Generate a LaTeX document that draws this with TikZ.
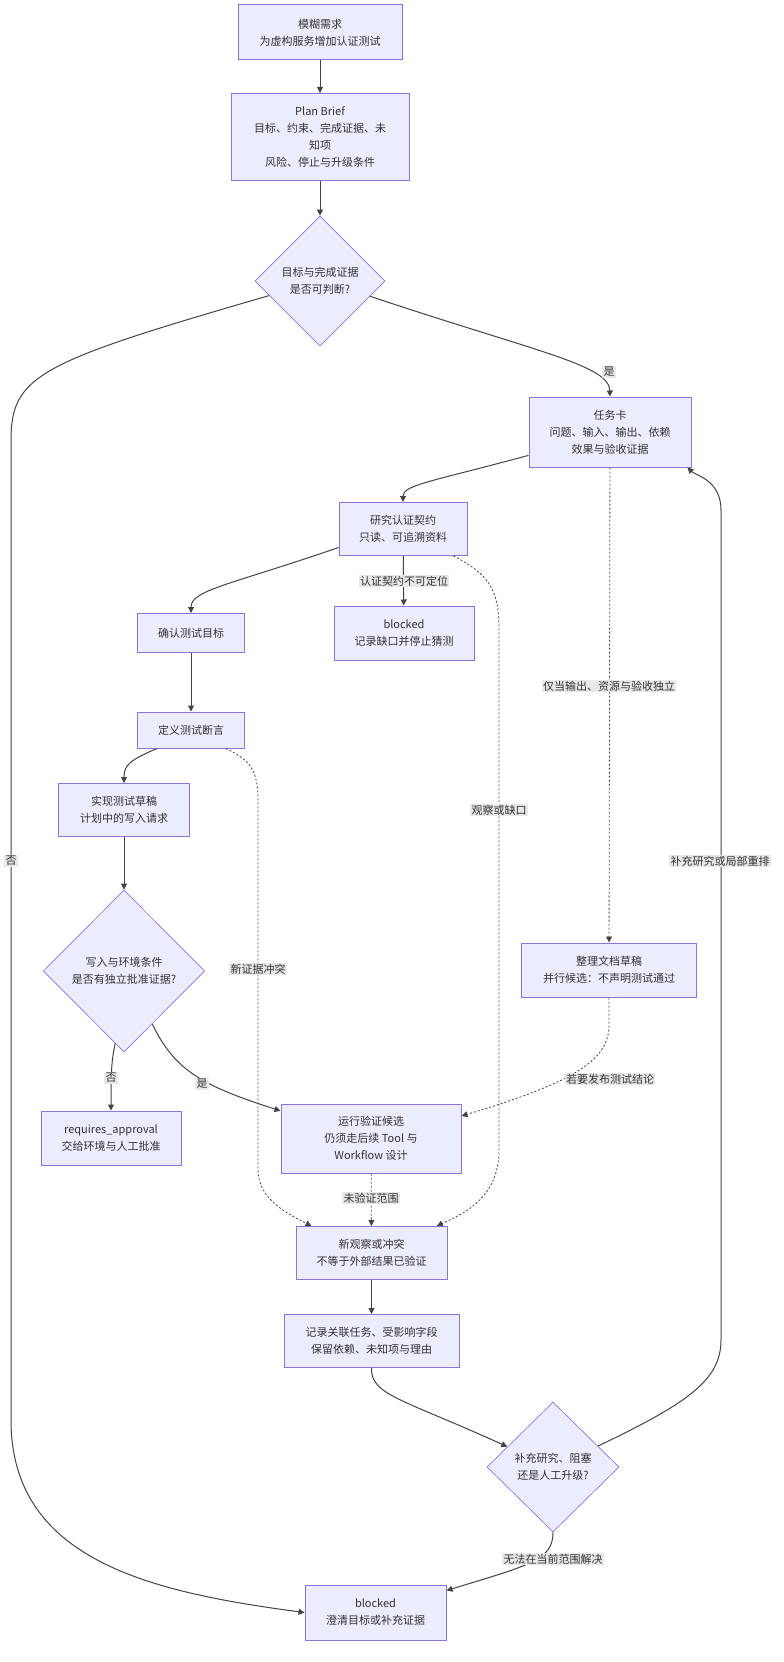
\documentclass[tikz,border=0pt]{standalone}
\usepackage{fontspec}
\setmainfont{Noto Sans CJK SC}
\usetikzlibrary{shapes.geometric,arrows.meta}
\definecolor{boxfill}{HTML}{ECECFF}
\definecolor{boxline}{HTML}{9370DB}
\definecolor{edgeline}{HTML}{444444}
\definecolor{lblfill}{HTML}{E8E8E8}
\definecolor{txt}{HTML}{333333}
\tikzset{
  flowfont/.style={font=\fontsize{8.25pt}{12.75pt}\selectfont},
  box/.style={draw=boxline, fill=boxfill, line width=0.75pt, align=center, text=txt, inner sep=0pt, flowfont},
  decision/.style={diamond, aspect=1, draw=boxline, fill=boxfill, line width=0.5pt, align=center, text=txt, inner sep=0pt, flowfont},
  flow/.style={draw=edgeline, line width=0.75pt, -{Triangle[length=4.5pt,width=4.5pt]}},
  maybe/.style={flow, line width=0.6pt, dash pattern=on 1.5pt off 1.5pt},
  lbl/.style={fill=lblfill, text=txt, inner sep=1pt, flowfont}
}
\begin{document}
\begin{tikzpicture}[x=0.75pt,y=-0.75pt]
\path[fill=white, use as bounding box] (0,0) rectangle (784,1662);

\node[box, minimum width=123pt, minimum height=41.25pt] (need) at (320,32.5) {模糊需求\\为虚构服务增加认证测试};
\node[box, minimum width=133.5pt, minimum height=65.25pt] (brief) at (320,137) {Plan Brief\\目标、约束、完成证据、未\\知项\\风险、停止与升级条件};
\node[decision, minimum width=97.5pt, minimum height=97.5pt] (judge) at (320,281) {目标与完成证据\\是否可判断?};
\node[box, minimum width=121.5pt, minimum height=52.5pt] (card) at (610,432) {任务卡\\问题、输入、输出、依赖\\效果与验收证据};
\node[box, minimum width=96pt, minimum height=39.75pt] (research) at (403,529) {研究认证契约\\只读、可追溯资料};
\node[box, minimum width=105pt, minimum height=40.5pt] (blkgap) at (404,633) {blocked\\记录缺口并停止猜测};
\node[box, minimum width=80.25pt, minimum height=29.25pt] (goal) at (191,633) {确认测试目标};
\node[box, minimum width=80.25pt, minimum height=27pt] (assert) at (191,730) {定义测试断言};
\node[box, minimum width=98.25pt, minimum height=39.75pt] (draft) at (124,810) {实现测试草稿\\计划中的写入请求};
\node[decision, minimum width=121pt, minimum height=121.5pt] (writeq) at (124,971) {写入与环境条件\\是否有独立批准证据?};
\node[box, minimum width=105pt, minimum height=40.5pt] (approval) at (111,1138) {requires\_approval\\交给环境与人工批准};
\node[box, minimum width=135pt, minimum height=51.75pt] (verify) at (371,1138.5) {运行验证候选\\仍须走后续 Tool 与\\Workflow 设计};
\node[box, minimum width=131.25pt, minimum height=40.5pt] (docs) at (609,970) {整理文档草稿\\并行候选：不声明测试通过};
\node[box, minimum width=113.25pt, minimum height=39.75pt] (observe) at (371.5,1253) {新观察或冲突\\不等于外部结果已验证};
\node[box, minimum width=131.25pt, minimum height=39.75pt] (record) at (371.5,1341) {记录关联任务、受影响字段\\保留依赖、未知项与理由};
\node[decision, minimum width=99pt, minimum height=97.5pt] (route) at (553,1467) {补充研究、阻塞\\还是人工升级?};
\node[box, minimum width=105.75pt, minimum height=41.25pt] (blkclar) at (375.5,1612.5) {blocked\\澄清目标或补充证据};

\draw[flow] (need) -- (brief);
\draw[flow] (brief) -- (judge);
\draw[flow] (judge.-17) .. controls (540,353) and (609,365) .. (card.north);
\draw[flow] (judge.-164) .. controls (40,362) and (11,375) .. (11,440) -- (11,1420) .. controls (11,1560) and (150,1592) .. (blkclar.west);
\draw[flow] (card.196) .. controls (430,482) and (403,485) .. (research.north);
\draw[flow] (research.196) .. controls (230,585) and (191,590) .. (goal.north);
\draw[flow] (research) -- (blkgap);
\draw[maybe] ([xshift=-10.5pt]research.south east) .. controls (490,575) and (499,590) .. (499,630) -- (499,1150) .. controls (499,1200) and (460,1215) .. ([xshift=-8pt]observe.north east);
\draw[flow] (goal) -- (assert);
\draw[flow] ([xshift=-25.5pt]assert.south) .. controls (130,760) and (124,765) .. (draft.north);
\draw[maybe] ([xshift=-14.25pt]assert.south east) .. controls (250,760) and (258,770) .. (258,800) -- (258,1170) .. controls (258,1200) and (290,1215) .. ([xshift=12pt]observe.north west);
\draw[flow] (draft) -- (writeq);
\draw[flow] (writeq.-97) .. controls (112,1060) and (111,1065) .. (approval.north);
\draw[flow] (writeq.-62) .. controls (175,1070) and (200,1085) .. (verify.163);
\draw[maybe] (card) -- (docs);
\draw[maybe] (docs.south) -- (609,1025) .. controls (609,1060) and (575,1082) .. (verify.14);
\draw[maybe] (verify) -- (observe);
\draw[flow] (observe) -- (record);
\draw[flow] (record.south) .. controls (371,1395) and (400,1398) .. (route.156);
\draw[flow] (route.25) .. controls (688,1403) and (721,1380) .. (721,1340) -- (721,510) .. controls (721,480) and (695,475) .. ([xshift=-3pt]card.south east);
\draw[flow] (route.south) .. controls (553,1560) and (530,1565) .. ([yshift=-4.5pt]blkclar.north east);

\node[lbl] (lyes) at (609,372) {是};
\node[lbl] (lno) at (11,861) {否};
\node[lbl] (lgap) at (404,581) {认证契约不可定位};
\node[lbl] (lobs) at (499,810) {观察或缺口};
\node[lbl] (lpar) at (609,686) {仅当输出、资源与验收独立};
\node[lbl] (lback) at (720,861) {补充研究或局部重排};
\node[lbl] (lconf) at (258,969) {新证据冲突};
\node[lbl] (lwno) at (111,1078) {否};
\node[lbl] (lwyes) at (202,1084) {是};
\node[lbl] (lpub) at (610,1079) {若要发布测试结论};
\node[lbl] (lscope) at (371,1198) {未验证范围};
\node[lbl] (lstuck) at (553,1559) {无法在当前范围解决};
\end{tikzpicture}
\end{document}
